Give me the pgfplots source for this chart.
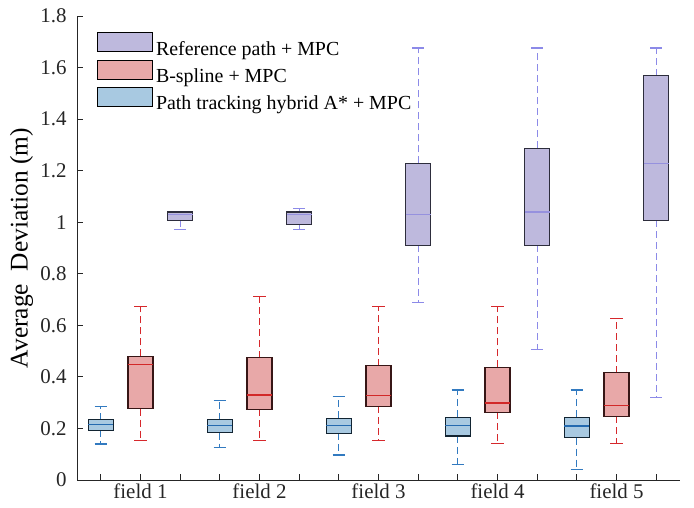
\documentclass[border=0pt]{standalone}
\usepackage{pgfplots}
\pgfplotsset{compat=1.18}
\usepgfplotslibrary{statistics}
\usepackage{fontspec}
\setmainfont{Liberation Serif}
\definecolor{pfill}{RGB}{190,185,221}
\definecolor{pline}{RGB}{140,138,232}
\definecolor{pmed}{RGB}{150,145,222}
\definecolor{pedge}{RGB}{45,45,60}
\definecolor{rfill}{RGB}{232,168,168}
\definecolor{rline}{RGB}{214,40,44}
\definecolor{rmed}{RGB}{210,40,40}
\definecolor{redge}{RGB}{55,22,22}
\definecolor{bfill}{RGB}{168,201,225}
\definecolor{bline}{RGB}{50,122,192}
\definecolor{bmed}{RGB}{35,105,175}
\definecolor{bedge}{RGB}{18,36,50}
\definecolor{axc}{RGB}{38,38,38}
\pgfplotsset{
  boxplot/draw/whisker/.code 2 args={%
    \draw[/pgfplots/boxplot/every whisker/.try, dash pattern=on 7bp off 4bp]
      (boxplot cs:#1) -- (boxplot cs:#2);
    \draw[/pgfplots/boxplot/every whisker/.try]
      (boxplot whisker cs:#2,0) -- (boxplot whisker cs:#2,1);
  },
  bp/.style n args={4}{
    boxplot/every box/.style={draw=#4, fill=#1, line width=1.2bp},
    boxplot/every whisker/.style={draw=#2, line width=1.2bp},
    boxplot/every median/.style={draw=#3, line width=1.4bp},
  },
  bpB/.style={forget plot, bp={bfill}{bline}{bmed}{bedge}},
  bpR/.style={forget plot, bp={rfill}{rline}{rmed}{redge}},
  bpP/.style={forget plot, bp={pfill}{pline}{pmed}{pedge}},
}
\begin{document}
\begin{tikzpicture}
\begin{axis}[
  scale only axis, width=603bp, height=464bp,
  xmin=0.4, xmax=15.6, ymin=0, ymax=1.8,
  axis x line*=bottom, axis y line*=left,
  axis line style={draw=axc, line width=0.8bp},
  tick align=inside, major tick length=6bp,
  tick style={draw=axc, line width=0.8bp},
  xtick={1,...,15},
  xticklabels={,field 1,,,field 2,,,field 3,,,field 4,,,field 5,},
  ytick={0,0.2,...,1.8},
  yticklabel style={/pgf/number format/assume math mode=true, xshift=-7bp},
  ticklabel style={font=\fontsize{21}{24}\selectfont, text=axc},
  ylabel={Average\ \ Deviation (m)},
  ylabel style={font=\fontsize{25.5}{29}\selectfont, at={(axis description cs:-0.092,0.5)}, anchor=center},
  boxplot/draw direction=y,
  boxplot/box extend=0.63,
  boxplot/whisker extend=0.31,
  legend cell align=left,
  legend image code/.code={\draw[#1, line width=0.9bp] (0bp,-3bp) rectangle (55bp,16bp);},
  legend style={draw=none, fill=none, inner sep=0pt,
    at={(axis description cs:0.033,0.965)}, anchor=north west,
    font=\fontsize{20}{23}\selectfont, row sep=2bp,
    nodes={inner xsep=3bp, inner ysep=1bp}},
]
% field 1
\addplot[bpB, boxplot prepared={draw position=1, lower whisker=0.140, lower quartile=0.193, median=0.216, upper quartile=0.234, upper whisker=0.286}] coordinates {};
\addplot[bpR, boxplot prepared={draw position=2, lower whisker=0.153, lower quartile=0.277, median=0.449, upper quartile=0.480, upper whisker=0.672}] coordinates {};
\addplot[bpP, boxplot prepared={draw position=3, lower whisker=0.972, lower quartile=1.008, median=1.030, upper quartile=1.040, upper whisker=1.040}] coordinates {};
% field 2
\addplot[bpB, boxplot prepared={draw position=4, lower whisker=0.126, lower quartile=0.184, median=0.211, upper quartile=0.234, upper whisker=0.307}] coordinates {};
\addplot[bpR, boxplot prepared={draw position=5, lower whisker=0.153, lower quartile=0.274, median=0.329, upper quartile=0.475, upper whisker=0.713}] coordinates {};
\addplot[bpP, boxplot prepared={draw position=6, lower whisker=0.972, lower quartile=0.990, median=1.030, upper quartile=1.040, upper whisker=1.053}] coordinates {};
% field 3
\addplot[bpB, boxplot prepared={draw position=7, lower whisker=0.097, lower quartile=0.181, median=0.211, upper quartile=0.240, upper whisker=0.324}] coordinates {};
\addplot[bpR, boxplot prepared={draw position=8, lower whisker=0.154, lower quartile=0.286, median=0.328, upper quartile=0.444, upper whisker=0.673}] coordinates {};
\addplot[bpP, boxplot prepared={draw position=9, lower whisker=0.688, lower quartile=0.911, median=1.030, upper quartile=1.228, upper whisker=1.676}] coordinates {};
% field 4
\addplot[bpB, boxplot prepared={draw position=10, lower whisker=0.060, lower quartile=0.171, median=0.212, upper quartile=0.244, upper whisker=0.349}] coordinates {};
\addplot[bpR, boxplot prepared={draw position=11, lower whisker=0.141, lower quartile=0.263, median=0.298, upper quartile=0.437, upper whisker=0.673}] coordinates {};
\addplot[bpP, boxplot prepared={draw position=12, lower whisker=0.506, lower quartile=0.911, median=1.040, upper quartile=1.287, upper whisker=1.676}] coordinates {};
% field 5
\addplot[bpB, boxplot prepared={draw position=13, lower whisker=0.041, lower quartile=0.164, median=0.210, upper quartile=0.244, upper whisker=0.349}] coordinates {};
\addplot[bpR, boxplot prepared={draw position=14, lower whisker=0.141, lower quartile=0.247, median=0.288, upper quartile=0.416, upper whisker=0.627}] coordinates {};
\addplot[bpP, boxplot prepared={draw position=15, lower whisker=0.320, lower quartile=1.008, median=1.228, upper quartile=1.569, upper whisker=1.676}] coordinates {};
\addlegendimage{fill=pfill, draw=black}
\addlegendentry{Reference path + MPC}
\addlegendimage{fill=rfill, draw=black}
\addlegendentry{B-spline + MPC}
\addlegendimage{fill=bfill, draw=black}
\addlegendentry{Path tracking hybrid A* + MPC}
\end{axis}
\pgfresetboundingbox
\path (-77bp,-28bp) rectangle (617bp,480bp);
\end{tikzpicture}
\end{document}
